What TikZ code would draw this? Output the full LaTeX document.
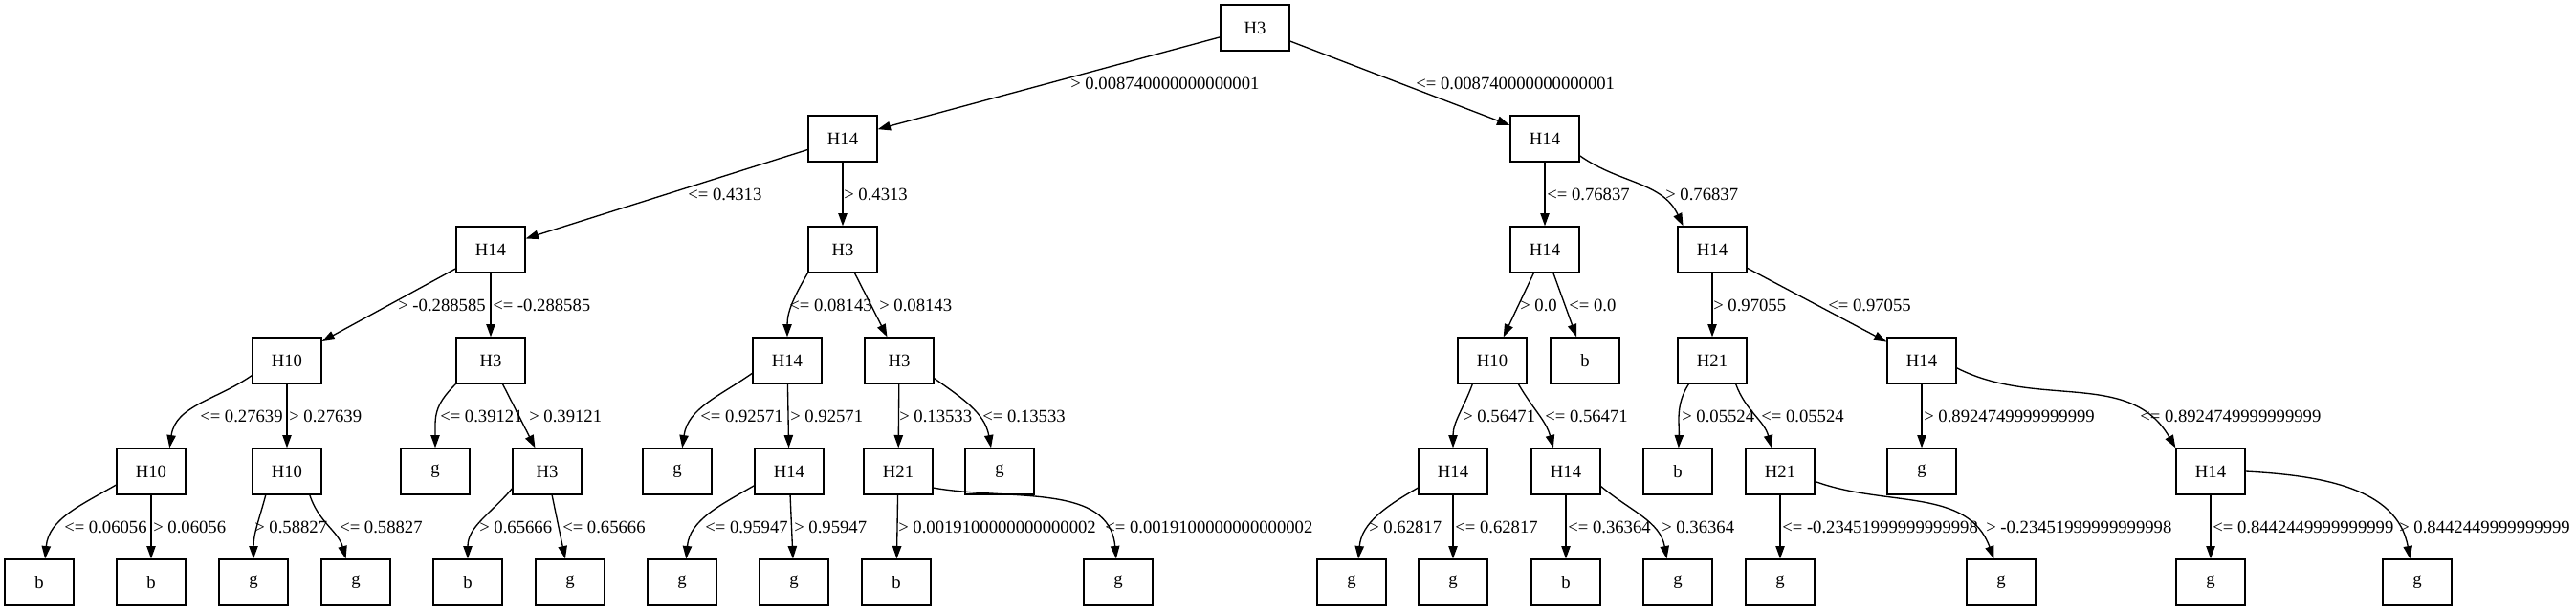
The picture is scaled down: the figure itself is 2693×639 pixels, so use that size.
\documentclass[tikz,border=0pt]{standalone}
\usepackage{fontspec}
\setmainfont{Liberation Serif}
\usetikzlibrary{arrows.meta}

\tikzset{
  testbox/.style={draw, solid, rectangle, line width=1pt, minimum width=54pt, minimum height=36pt, inner sep=0pt, font=\fontsize{14pt}{16pt}\selectfont},
  leafbox/.style={testbox},
  cond/.style={anchor=west, inner sep=0pt, font=\fontsize{14pt}{16pt}\selectfont},
  branch/.style={-{Triangle[length=10pt,width=7pt]}, line width=1pt},
}

\begin{document}
\begin{tikzpicture}[x=0.75pt, y=-0.75pt]

        % Background (fixes the size of the page)
        \path[fill=white] (0,0) rectangle (2693,639);

        % Test nodes
        \node (root) [testbox] at (1312,29) {H3};
        \node (nl) [testbox] at (881,145) {H14};
        \node (nr) [testbox] at (1615,145) {H14};
        \node (nll) [testbox] at (513,261) {H14};
        \node (nlr) [testbox] at (881,261) {H3};
        \node (nrl) [testbox] at (1615,261) {H14};
        \node (nrr) [testbox] at (1790,261) {H14};
        \node (nlll) [testbox] at (300,377) {H10};
        \node (nllr) [testbox] at (513,377) {H3};
        \node (nlrl) [testbox] at (823,377) {H14};
        \node (nlrr) [testbox] at (940,377) {H3};
        \node (nrll) [testbox] at (1560,377) {H10};
        \node (nrrl) [testbox] at (1790,377) {H21};
        \node (nrrr) [testbox] at (2009,377) {H14};
        \node (nllll) [testbox] at (158,493) {H10};
        \node (nlllr) [testbox] at (300,493) {H10};
        \node (nllrr) [testbox] at (572,493) {H3};
        \node (nlrlr) [testbox] at (825,493) {H14};
        \node (nlrrl) [testbox] at (939,493) {H21};
        \node (nrlll) [testbox] at (1519,493) {H14};
        \node (nrllr) [testbox] at (1637,493) {H14};
        \node (nrrlr) [testbox] at (1861,493) {H21};
        \node (nrrrr) [testbox] at (2311,493) {H14};

        % Leaf nodes
        \node (nrlr) [leafbox] at (1657,377) {b};
        \node (nllrl) [leafbox] at (455,493) {g};
        \node (nlrll) [leafbox] at (708,493) {g};
        \node (nlrrr) [leafbox] at (1045,493) {g};
        \node (nrrll) [leafbox] at (1754,493) {b};
        \node (nrrrl) [leafbox] at (2009,493) {g};
        \node (nlllll) [leafbox] at (41,609) {b};
        \node (nllllr) [leafbox] at (158,609) {b};
        \node (nlllrl) [leafbox] at (265,609) {g};
        \node (nlllrr) [leafbox] at (372,609) {g};
        \node (nllrrl) [leafbox] at (489,609) {b};
        \node (nllrrr) [leafbox] at (596,609) {g};
        \node (nlrlrl) [leafbox] at (713,609) {g};
        \node (nlrlrr) [leafbox] at (830,609) {g};
        \node (nlrrll) [leafbox] at (937,609) {b};
        \node (nlrrlr) [leafbox] at (1169,609) {g};
        \node (nrllll) [leafbox] at (1413,609) {g};
        \node (nrlllr) [leafbox] at (1519,609) {g};
        \node (nrllrl) [leafbox] at (1637,609) {b};
        \node (nrllrr) [leafbox] at (1754,609) {g};
        \node (nrrlrl) [leafbox] at (1861,609) {g};
        \node (nrrlrr) [leafbox] at (2092,609) {g};
        \node (nrrrrl) [leafbox] at (2311,609) {g};
        \node (nrrrrr) [leafbox] at (2527,609) {g};

        % Arrows
        \draw[branch] (root) -- (nl);
        \draw[branch] (root) -- (nr);
        \draw[branch] (nl) -- (nll);
        \draw[branch] (nl) -- (nlr);
        \draw[branch] (nr) -- (nrl);
        \draw[branch] (nr.-26) to[out=-35, in=115] (nrr.141);
        \draw[branch] (nll) -- (nlll);
        \draw[branch] (nll) -- (nllr);
        \draw[branch] (nlr.south west) to[out=-120, in=90] (nlrl);
        \draw[branch] (nlr) -- (nlrr);
        \draw[branch] (nrl) -- (nrll);
        \draw[branch] (nrl) -- (nrlr);
        \draw[branch] (nrr) -- (nrrl);
        \draw[branch] (nrr) -- (nrrr);
        \draw[branch] (nlll.-157) to[out=-145, in=82] (nllll.52);
        \draw[branch] (nlll) -- (nlllr);
        \draw[branch] (nllr.south west) to[out=-135, in=90, looseness=1.2] (nllrl);
        \draw[branch] (nllr) -- (nllrr);
        \draw[branch] (nlrl.-160) to[out=-145, in=82] (nlrll.78);
        \draw[branch] (nlrl) -- (nlrlr);
        \draw[branch] (nlrr) -- (nlrrl);
        \draw[branch] (nlrr.-27) to[out=-35, in=100] (nlrrr.110);
        \draw[branch] (nrll.-130) to[out=-110, in=90] (nrlll);
        \draw[branch] (nrll.-42) to[out=-60, in=105] (nrllr.118);
        \draw[branch] (nrrl.-135) to[out=-122, in=88] (nrrll);
        \draw[branch] (nrrl.-45) to[out=-70, in=105] (nrrlr.110);
        \draw[branch] (nrrr) -- (nrrrl);
        \draw[branch] (nrrr.-12) to[out=-27, in=120] (nrrrr.north west);
        \draw[branch] (nllll.-159) to[out=-150, in=85] (nlllll.76);
        \draw[branch] (nllll) -- (nllllr);
        \draw[branch] (nlllr.-132) to[out=-105, in=90] (nlllrl);
        \draw[branch] (nlllr.-46) to[out=-72, in=105] (nlllrr.113);
        \draw[branch] (nllrr.-154) to[out=-130, in=90] (nllrrl);
        \draw[branch] (nllrr) -- (nllrrr);
        \draw[branch] (nlrlr.-158) to[out=-150, in=85] (nlrlrl.80);
        \draw[branch] (nlrlr) -- (nlrlrr);
        \draw[branch] (nlrrl) -- (nlrrll);
        \draw[branch] (nlrrl.-25) to[out=-10, in=95] (nlrrlr);
        \draw[branch] (nrlll.-155) to[out=-150, in=85] (nrllll.74);
        \draw[branch] (nrlll) -- (nrlllr);
        \draw[branch] (nrllr) -- (nrllrl);
        \draw[branch] (nrllr.-23) to[out=-40, in=100] (nrllrr.115);
        \draw[branch] (nrrlr) -- (nrrlrl);
        \draw[branch] (nrrlr.-16) to[out=-20, in=110] (nrrlrr.107);
        \draw[branch] (nrrrr) -- (nrrrrl);
        \draw[branch] (nrrrr.east) to[out=-3, in=100] (nrrrrr.107);

        % Branch conditions
        \node (croot-l) [cond] at (1119,87) {> 0.008740000000000001};
        \node (croot-r) [cond] at (1480,87) {<= 0.008740000000000001};
        \node (cnl-l) [cond] at (719,203) {<= 0.4313};
        \node (cnl-r) [cond] at (882,203) {> 0.4313};
        \node (cnr-l) [cond] at (1617,203) {<= 0.76837};
        \node (cnr-r) [cond] at (1741,203) {> 0.76837};
        \node (cnll-l) [cond] at (416,319) {> -0.288585};
        \node (cnll-r) [cond] at (515,319) {<= -0.288585};
        \node (cnlr-l) [cond] at (825,319) {<= 0.08143};
        \node (cnlr-r) [cond] at (919,319) {> 0.08143};
        \node (cnrl-l) [cond] at (1589,319) {> 0.0};
        \node (cnrl-r) [cond] at (1640,319) {<= 0.0};
        \node (cnrr-l) [cond] at (1791,319) {> 0.97055};
        \node (cnrr-r) [cond] at (1911,319) {<= 0.97055};
        \node (cnlll-l) [cond] at (209,435) {<= 0.27639};
        \node (cnlll-r) [cond] at (302,435) {> 0.27639};
        \node (cnllr-l) [cond] at (460,435) {<= 0.39121};
        \node (cnllr-r) [cond] at (553,435) {> 0.39121};
        \node (cnlrl-l) [cond] at (732,435) {<= 0.92571};
        \node (cnlrl-r) [cond] at (826,435) {> 0.92571};
        \node (cnlrr-l) [cond] at (940,435) {> 0.13533};
        \node (cnlrr-r) [cond] at (1027,435) {<= 0.13533};
        \node (cnrll-l) [cond] at (1529,435) {> 0.56471};
        \node (cnrll-r) [cond] at (1615,435) {<= 0.56471};
        \node (cnrrl-l) [cond] at (1758,435) {> 0.05524};
        \node (cnrrl-r) [cond] at (1841,435) {<= 0.05524};
        \node (cnrrr-l) [cond] at (2011,435) {> 0.8924749999999999};
        \node (cnrrr-r) [cond] at (2237,435) {<= 0.8924749999999999};
        \node (cnllll-l) [cond] at (67,551) {<= 0.06056};
        \node (cnllll-r) [cond] at (160,551) {> 0.06056};
        \node (cnlllr-l) [cond] at (266,551) {> 0.58827};
        \node (cnlllr-r) [cond] at (355,551) {<= 0.58827};
        \node (cnllrr-l) [cond] at (501,551) {> 0.65666};
        \node (cnllrr-r) [cond] at (588,551) {<= 0.65666};
        \node (cnlrlr-l) [cond] at (737,551) {<= 0.95947};
        \node (cnlrlr-r) [cond] at (830,551) {> 0.95947};
        \node (cnlrrl-l) [cond] at (939,551) {> 0.0019100000000000002};
        \node (cnlrrl-r) [cond] at (1155,551) {<= 0.0019100000000000002};
        \node (cnrlll-l) [cond] at (1431,551) {> 0.62817};
        \node (cnrlll-r) [cond] at (1521,551) {<= 0.62817};
        \node (cnrllr-l) [cond] at (1639,551) {<= 0.36364};
        \node (cnrllr-r) [cond] at (1737,551) {> 0.36364};
        \node (cnrrlr-l) [cond] at (1863,551) {<= -0.23451999999999998};
        \node (cnrrlr-r) [cond] at (2076,551) {> -0.23451999999999998};
        \node (cnrrrr-l) [cond] at (2313,551) {<= 0.8442449999999999};
        \node (cnrrrr-r) [cond] at (2508,551) {> 0.8442449999999999};

    \end{tikzpicture}
\end{document}
